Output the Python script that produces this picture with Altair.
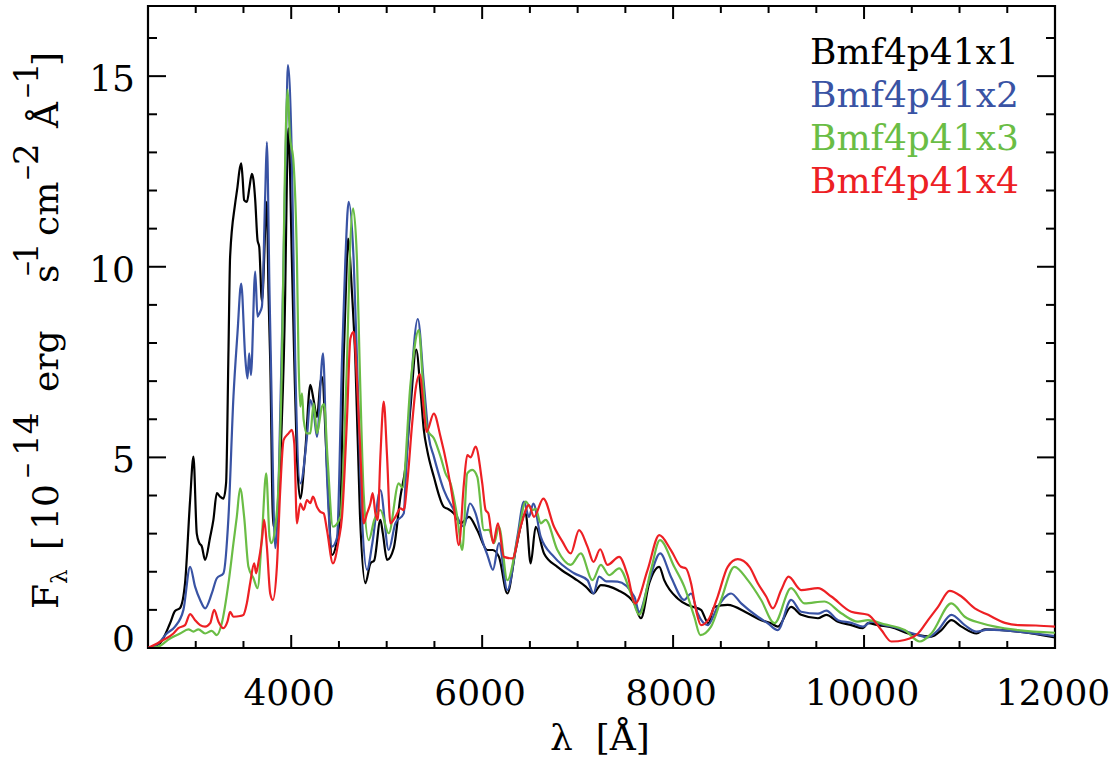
import altair as alt
import pandas as pd

FONT = "DejaVu Serif"

names = ["Bmf4p41x1", "Bmf4p41x2", "Bmf4p41x3", "Bmf4p41x4"]
colors = ["#000000", "#3953a4", "#6abd45", "#ed2024"]

wl_x1 = [2500, 2626, 2731, 2783, 2836, 2888, 2941, 2976, 3011, 3038, 3063, 3098, 3151, 3185, 3221, 3255,
         3290, 3318, 3343, 3360, 3413, 3437, 3458, 3476, 3490, 3507, 3536, 3563, 3588, 3605, 3623, 3647,
         3665, 3693, 3745, 3762, 3780, 3812, 3850, 3895, 3937, 3955, 3971, 4007, 4032, 4060, 4095, 4148,
         4200, 4235, 4270, 4305, 4322, 4375, 4427, 4480, 4515, 4549, 4577, 4595, 4637, 4672, 4720, 4777,
         4830, 4870, 4934, 4960, 5004, 5074, 5144, 5197, 5250, 5309, 5354, 5389, 5424, 5494, 5599, 5640,
         5704, 5774, 5861, 5949, 6054, 6110, 6176, 6264, 6351, 6456, 6508, 6561, 6648, 6788, 6963, 7085,
         7166, 7243, 7418, 7593, 7663, 7750, 7855, 7907, 8047, 8152, 8205, 8292, 8369, 8432, 8572, 8782,
         8922, 9027, 9097, 9236, 9341, 9517, 9604, 9727, 9866, 9989, 10041, 10146, 10321, 10461, 10566,
         10705, 10810, 10915, 11020, 11178, 11265, 11615, 12000]
fx_x1 = [0.0, 0.13, 0.65, 0.97, 1.05, 1.70, 3.88, 5.02, 3.0, 2.75, 2.67, 2.31, 2.91, 3.36, 4.06, 3.97,
         3.92, 4.33, 7.81, 10.26, 11.66, 12.09, 12.53, 12.71, 12.36, 11.75, 11.70, 12.09, 12.44, 12.27, 11.75, 10.70,
         10.52, 9.1, 11.70, 9.3, 7.55, 3.2, 3.3, 5.5, 9.30, 12.36, 13.63, 10.17, 7.55, 5.0, 3.92, 5.19,
         6.90, 6.50, 6.06, 6.94, 7.11, 4.75, 2.44, 2.83, 3.6, 7.55, 9.74, 10.74, 9.30, 7.55, 3.5, 1.70,
         2.22, 2.3, 3.36, 3.0, 2.31, 2.62, 3.97, 4.75, 6.33, 7.83, 6.77, 5.72, 5.19, 4.49, 3.70, 3.65,
         3.53, 3.27, 3.44, 3.09, 2.57, 2.57, 2.39, 1.43, 2.57, 3.53, 2.22, 3.18, 2.48, 2.13, 1.83, 1.61,
         1.43, 1.65, 1.52, 1.17, 0.78, 1.70, 2.13, 1.78, 1.30, 1.13, 1.08, 1.0, 0.65, 1.08, 1.13, 0.91,
         0.73, 0.65, 0.56, 1.08, 0.87, 0.78, 0.87, 0.69, 0.60, 0.52, 0.65, 0.60, 0.52, 0.38, 0.34,
         0.30, 0.47, 0.73, 0.56, 0.38, 0.49, 0.43, 0.28]

wl_x2 = [2500, 2600, 2696, 2783, 2871, 2941, 2993, 3046, 3098, 3168, 3221, 3290, 3343, 3395, 3437, 3476,
         3518, 3542, 3560, 3578, 3623, 3647, 3665, 3693, 3728, 3745, 3773, 3787, 3833, 3870, 3920, 3948,
         3966, 4007, 4042, 4095, 4165, 4200, 4235, 4270, 4333, 4375, 4427, 4480, 4532, 4567, 4602, 4654,
         4689, 4740, 4794, 4850, 4934, 5021, 5091, 5179, 5197, 5250, 5326, 5389, 5441, 5494, 5599, 5704,
         5809, 5872, 5931, 6001, 6060, 6113, 6176, 6264, 6369, 6438, 6490, 6536, 6613, 6753, 6963, 7103,
         7166, 7225, 7300, 7418, 7593, 7645, 7750, 7865, 7977, 8117, 8188, 8257, 8362, 8467, 8607, 8713,
         8887, 8992, 9097, 9236, 9341, 9517, 9604, 9727, 9866, 9989, 10076, 10216, 10356, 10461, 10566,
         10670, 10775, 10915, 11055, 11178, 11300, 11615, 12000]
fx_x2 = [0.0, 0.1, 0.38, 0.56, 1.00, 2.13, 1.61, 1.26, 1.04, 1.43, 1.83, 1.96, 3.44, 6.59, 8.25, 9.56,
         7.64, 7.07, 7.73, 7.16, 9.87, 8.69, 8.77, 8.95, 11.92, 13.27, 9.3, 7.55, 2.62, 4.5, 10.17, 13.67,
         15.29, 12.8, 7.55, 4.32, 5.54, 6.5, 6.2, 5.54, 7.73, 4.5, 2.66, 2.9, 7.55, 10.17, 11.70, 10.17,
         7.55, 3.5, 2.05, 2.75, 4.14, 2.57, 3.27, 3.53, 4.32, 6.68, 8.63, 6.94, 5.54, 5.02, 4.14, 3.62,
         3.18, 3.79, 3.53, 2.83, 2.4, 2.05, 2.75, 1.52, 2.92, 3.84, 3.44, 3.79, 2.92, 2.39, 1.96, 1.78,
         1.43, 1.87, 1.75, 1.74, 1.35, 0.95, 1.78, 2.48, 1.87, 1.26, 1.43, 0.91, 0.60, 1.08, 1.43, 1.17,
         0.82, 0.65, 0.47, 1.26, 0.95, 0.90, 0.98, 0.73, 0.66, 0.56, 0.69, 0.60, 0.52, 0.42, 0.34,
         0.28, 0.47, 0.87, 0.60, 0.43, 0.48, 0.43, 0.31]

wl_x3 = [2500, 2600, 2731, 2836, 2923, 2976, 3028, 3098, 3168, 3221, 3273, 3343, 3395, 3430, 3465, 3507,
         3552, 3605, 3647, 3693, 3738, 3773, 3791, 3833, 3868, 3903, 3930, 3962, 3985, 4025, 4060, 4077,
         4095, 4113, 4130, 4165, 4200, 4235, 4270, 4322, 4345, 4380, 4437, 4515, 4550, 4585, 4612, 4648,
         4689, 4716, 4760, 4812, 4870, 4934, 5021, 5126, 5165, 5250, 5336, 5380, 5424, 5494, 5564, 5616,
         5669, 5739, 5792, 5844, 5897, 5949, 6019, 6071, 6124, 6176, 6264, 6369, 6456, 6526, 6561, 6613,
         6665, 6788, 6928, 7033, 7155, 7243, 7330, 7435, 7558, 7645, 7768, 7862, 8012, 8117, 8222, 8285,
         8397, 8502, 8642, 8782, 8922, 9062, 9236, 9376, 9586, 9761, 9936, 10041, 10216, 10426, 10583,
         10705, 10915, 11055, 11230, 11615, 12000]
fx_x3 = [0.0, 0.03, 0.25, 0.38, 0.49, 0.43, 0.49, 0.38, 0.45, 0.34, 0.65, 1.70, 2.75, 3.44, 4.19, 3.44,
         2.13, 1.83, 1.57, 2.92, 4.58, 2.92, 2.75, 3.18, 4.32, 7.55, 11.92, 14.65, 13.5, 12.71, 10.17, 7.55,
         6.33, 6.68, 6.0, 5.63, 5.63, 6.42, 5.63, 6.33, 6.4, 5.0, 3.18, 3.44, 5.0, 7.55, 10.17, 11.53,
         10.17, 7.55, 4.0, 2.83, 3.36, 3.62, 3.01, 4.32, 4.2, 6.94, 8.34, 6.94, 5.72, 5.50, 5.02, 4.58,
         4.32, 3.44, 2.57, 4.58, 4.67, 4.49, 3.09, 3.1, 2.75, 3.18, 1.78, 2.83, 3.84, 3.62, 3.65, 3.27,
         3.36, 2.57, 2.18, 2.48, 1.78, 2.18, 1.91, 2.09, 1.43, 0.87, 2.05, 2.83, 2.13, 1.61, 0.82, 0.34,
         0.56, 1.26, 2.13, 1.78, 1.26, 0.65, 1.57, 1.17, 1.22, 0.91, 0.69, 0.73, 0.62, 0.47, 0.17,
         0.38, 1.17, 0.82, 0.65, 0.47, 0.40]

wl_x4 = [2500, 2661, 2766, 2818, 2888, 2941, 2993, 3046, 3098, 3151, 3193, 3238, 3290, 3332, 3360, 3395,
         3465, 3500, 3535, 3570, 3612, 3633, 3655, 3693, 3717, 3745, 3780, 3808, 3850, 3885, 3920, 3972,
         4007, 4032, 4060, 4095, 4130, 4165, 4200, 4228, 4270, 4305, 4340, 4375, 4437, 4497, 4532, 4585,
         4620, 4654, 4690, 4731, 4759, 4794, 4829, 4853, 4882, 4906, 4934, 4969, 5004, 5039, 5091, 5144,
         5179, 5215, 5267, 5302, 5347, 5389, 5417, 5494, 5564, 5634, 5704, 5756, 5809, 5844, 5880, 5931,
         6001, 6036, 6065, 6116, 6165, 6228, 6316, 6403, 6490, 6543, 6641, 6753, 6841, 6928, 7015, 7103,
         7166, 7236, 7312, 7435, 7523, 7603, 7733, 7855, 7977, 8082, 8134, 8188, 8240, 8292, 8379, 8467,
         8572, 8677, 8800, 8887, 8975, 9045, 9132, 9209, 9341, 9517, 9657, 9866, 10041, 10181, 10286,
         10426, 10566, 10670, 10775, 10897, 11020, 11160, 11300, 11475, 11615, 11800, 12000]
fx_x4 = [0.0, 0.21, 0.38, 0.52, 0.60, 0.89, 0.73, 0.60, 0.56, 0.65, 1.00, 0.69, 0.52, 0.69, 0.95, 0.82,
         0.84, 0.87, 1.17, 1.70, 2.22, 1.96, 2.22, 2.83, 3.36, 2.66, 1.43, 1.26, 2.13, 4.14, 5.45, 5.63,
         5.72, 5.37, 3.27, 3.79, 3.62, 3.88, 3.8, 3.97, 3.70, 3.57, 3.53, 3.09, 2.22, 2.83, 3.44, 6.06,
         8.12, 8.29, 6.94, 4.75, 3.27, 3.53, 3.79, 4.06, 3.53, 3.36, 5.02, 6.46, 5.02, 3.27, 3.44, 3.66,
         3.62, 4.32, 5.89, 6.77, 7.18, 6.24, 5.67, 6.15, 5.54, 4.75, 3.70, 2.70, 4.32, 5.06, 5.0, 5.28,
         4.32, 3.62, 3.53, 2.75, 3.27, 2.39, 2.35, 3.18, 3.75, 3.44, 3.92, 3.18, 2.79, 2.48, 3.09, 2.66,
         2.26, 2.59, 2.18, 2.39, 1.91, 1.17, 2.05, 2.96, 2.57, 2.13, 2.09, 1.70, 1.00, 0.60, 0.78, 1.35,
         2.13, 2.33, 2.13, 1.70, 1.35, 1.04, 1.52, 1.87, 1.52, 1.57, 1.35, 0.95, 0.87, 0.47, 0.17,
         0.21, 0.38, 0.73, 1.08, 1.50, 1.35, 1.04, 0.87, 0.66, 0.60, 0.59, 0.56]

x_major = [4000, 6000, 8000, 10000, 12000]
x_minor = [3000, 3500, 4500, 5000, 5500, 6500, 7000, 7500, 8500, 9000, 9500, 10500, 11000, 11500]
y_major = [0, 5, 10, 15]
y_minor = [1, 2, 3, 4, 6, 7, 8, 9, 11, 12, 13, 14, 16]

series_wl = [wl_x1, wl_x2, wl_x3, wl_x4]
series_fx = [fx_x1, fx_x2, fx_x3, fx_x4]

W, H = 907, 642
L, T = 148, 6
xs = alt.Scale(domain=[2500, 12000], nice=False, zero=False)
ys = alt.Scale(domain=[0, 16.84], nice=False, zero=False)

layers = []
for i in range(4):
    df = pd.DataFrame({"wl": series_wl[i], "f": series_fx[i]})
    layers.append(
        alt.Chart(df).mark_line(color=colors[i], strokeWidth=2.2, interpolate="monotone", clip=True)
        .encode(x=alt.X("wl:Q", scale=xs, axis=None),
                y=alt.Y("f:Q", scale=ys, axis=None))
    )

def xticks(vals, length):
    d = pd.DataFrame({"v": vals})
    bot = alt.Chart(d).mark_rule(color="black", strokeWidth=2).encode(
        x=alt.X("v:Q", scale=xs, axis=None), y=alt.value(H), y2=alt.value(H - length))
    top = alt.Chart(d).mark_rule(color="black", strokeWidth=2).encode(
        x=alt.X("v:Q", scale=xs, axis=None), y=alt.value(0), y2=alt.value(length))
    return [bot, top]

def yticks(vals, length):
    d = pd.DataFrame({"v": vals})
    lft = alt.Chart(d).mark_rule(color="black", strokeWidth=2).encode(
        y=alt.Y("v:Q", scale=ys, axis=None), x=alt.value(0), x2=alt.value(length))
    rgt = alt.Chart(d).mark_rule(color="black", strokeWidth=2).encode(
        y=alt.Y("v:Q", scale=ys, axis=None), x=alt.value(W), x2=alt.value(W - length))
    return [lft, rgt]

layers += xticks(x_major, 13) + xticks(x_minor, 7) + yticks(y_major, 18) + yticks(y_minor, 9)

# tick labels
xlab = pd.DataFrame({"v": x_major, "t": [str(v) for v in x_major]})
layers.append(alt.Chart(xlab).mark_text(font=FONT, fontSize=36, color="black", align="center",
                                        baseline="alphabetic", dx=-2).encode(
    x=alt.X("v:Q", scale=xs, axis=None), y=alt.value(H + 57), text="t:N"))

ylab_hi = pd.DataFrame({"v": y_major[1:], "t": [str(v) for v in y_major[1:]]})
ylab_lo = pd.DataFrame({"v": y_major[:1], "t": [str(v) for v in y_major[:1]]})
layers.append(alt.Chart(ylab_hi).mark_text(font=FONT, fontSize=36, color="black", align="right",
                                           baseline="alphabetic", dy=15).encode(
    y=alt.Y("v:Q", scale=ys, axis=None), x=alt.value(-13), text="t:N"))
layers.append(alt.Chart(ylab_lo).mark_text(font=FONT, fontSize=36, color="black", align="right",
                                           baseline="alphabetic", dy=3).encode(
    y=alt.Y("v:Q", scale=ys, axis=None), x=alt.value(-13), text="t:N"))

dummy = pd.DataFrame({"a": [0]})

def txt(text, x, y, size, color="black", angle=0, align="left", baseline="alphabetic"):
    return alt.Chart(dummy).mark_text(text=text, font=FONT, fontSize=size, color=color, angle=angle,
                                      align=align, baseline=baseline).encode(
        x=alt.value(x - L), y=alt.value(y - T))

# legend (coloured labels)
leg_base = [64, 107, 149.5, 192.5]
for i in range(4):
    layers.append(txt(names[i], 810, leg_base[i], 36, color=colors[i]))

# x title
layers.append(txt("λ\u00a0\u00a0[Å]", 600, 750, 36, align="center"))

# y title pieces (rotated, reading upward)
ypieces = [
    ("F", 58, 609, 36), ("λ", 67, 584, 23), ("[", 58, 550, 36), ("10", 58, 530, 36),
    ("–", 36, 478, 30), ("14", 38, 456, 34), ("erg", 58, 392, 36), ("s", 58, 283, 36),
    ("–", 36, 276, 30), ("1", 38, 264, 34), ("cm", 58, 236, 36), ("–", 36, 180, 30),
    ("2", 38, 165, 34), ("Å", 58, 128, 36), ("–", 36, 98, 30), ("1", 38, 84, 34), ("]", 58, 66, 36),
]
for t, x, y, s in ypieces:
    layers.append(txt(t, x, y, s, angle=270))

chart = alt.layer(*layers).properties(
    width=W, height=H,
    padding={"left": L, "top": T, "right": 1117 - L - W, "bottom": 760 - T - H},
    autosize=alt.AutoSizeParams(type="none"),
).configure_view(stroke="black", strokeWidth=2.2)

chart.save("out.html", embed_options={"renderer": "svg", "actions": False})
